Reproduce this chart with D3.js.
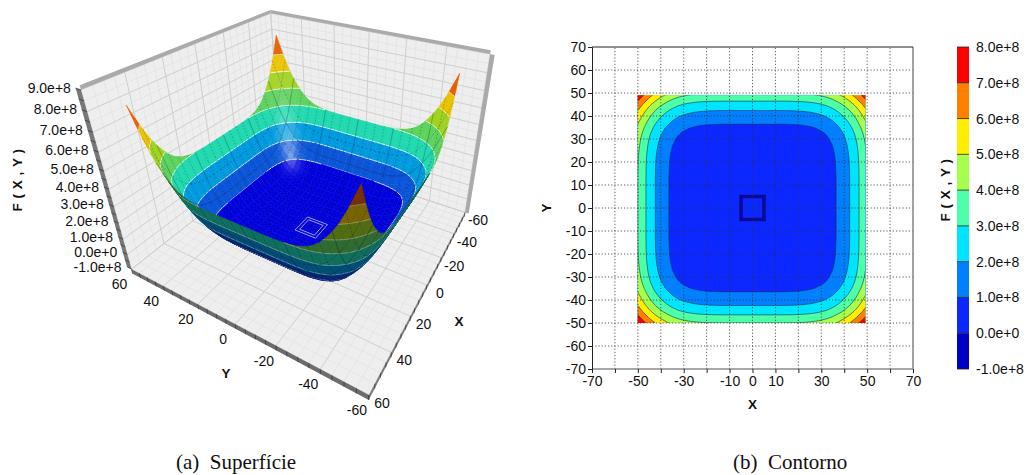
<!DOCTYPE html>
<html>
<head>
<meta charset="utf-8">
<script src="https://cdnjs.cloudflare.com/ajax/libs/d3/7.8.5/d3.min.js"></script>
<style>
  body { margin: 0; background: #fff; }
  text { font-family: "Liberation Sans", Arial, sans-serif; fill: #111; }
  .tick text { font-size: 14px; }
  .title { font-weight: bold; font-size: 13.5px; }
  .title.wide { letter-spacing: 0.5px; }
  .caption { font-family: "Liberation Serif", serif; font-size: 21px; }
</style>
</head>
<body>
<script>
// F(X,Y) in units of 1e8. One quadrant, |x| and |y| = 0, 2.5 ... 50
const gridStep = 2.5;
const zQuadrant = [
  [0,0,0,0,0,0,.01,.02,.04,.08,.14,.23,.36,.54,.80,1.14,1.54,2.02,2.60,3.28,4.00],
  [0,0,0,0,0,0,.01,.02,.04,.08,.14,.23,.36,.54,.80,1.14,1.54,2.02,2.60,3.28,4.00],
  [0,0,0,0,0,0,.01,.02,.04,.08,.14,.23,.36,.54,.80,1.14,1.54,2.02,2.60,3.28,4.00],
  [0,0,0,0,0,0,.01,.02,.04,.08,.14,.23,.36,.54,.80,1.14,1.54,2.02,2.60,3.28,4.00],
  [0,0,0,0,0,0,.01,.02,.04,.08,.14,.23,.36,.54,.80,1.14,1.54,2.02,2.60,3.28,4.00],
  [0,0,0,0,0,0,.01,.02,.04,.08,.14,.23,.36,.54,.80,1.14,1.54,2.02,2.60,3.28,4.00],
  [.01,.01,.01,.01,.01,.01,.02,.03,.05,.09,.15,.24,.37,.55,.81,1.15,1.55,2.03,2.61,3.29,4.01],
  [.02,.02,.02,.02,.02,.02,.03,.04,.06,.10,.16,.25,.38,.56,.82,1.16,1.56,2.04,2.62,3.30,4.02],
  [.04,.04,.04,.04,.04,.04,.05,.06,.08,.12,.18,.27,.40,.58,.84,1.18,1.58,2.06,2.64,3.32,4.04],
  [.08,.08,.08,.08,.08,.08,.09,.10,.12,.16,.22,.31,.44,.62,.88,1.22,1.62,2.10,2.68,3.36,4.08],
  [.14,.14,.14,.14,.14,.14,.15,.16,.18,.22,.28,.37,.50,.68,.94,1.28,1.68,2.16,2.74,3.42,4.14],
  [.23,.23,.23,.23,.23,.23,.24,.25,.27,.31,.37,.46,.59,.77,1.03,1.37,1.77,2.25,2.83,3.51,4.23],
  [.36,.36,.36,.36,.36,.36,.37,.38,.40,.44,.50,.59,.72,.90,1.16,1.50,1.90,2.38,2.96,3.64,4.36],
  [.54,.54,.54,.54,.54,.54,.55,.56,.58,.62,.68,.77,.90,1.08,1.34,1.68,2.08,2.56,3.14,3.82,4.54],
  [.80,.80,.80,.80,.80,.80,.81,.82,.84,.88,.94,1.03,1.16,1.34,1.60,1.94,2.34,2.82,3.40,4.08,4.80],
  [1.14,1.14,1.14,1.14,1.14,1.14,1.15,1.16,1.18,1.22,1.28,1.37,1.50,1.68,1.94,2.28,2.68,3.16,3.74,4.42,5.14],
  [1.54,1.54,1.54,1.54,1.54,1.54,1.55,1.56,1.58,1.62,1.68,1.77,1.90,2.08,2.34,2.68,3.08,3.56,4.14,4.82,5.54],
  [2.02,2.02,2.02,2.02,2.02,2.02,2.03,2.04,2.06,2.10,2.16,2.25,2.38,2.56,2.82,3.16,3.56,4.04,4.62,5.30,6.02],
  [2.60,2.60,2.60,2.60,2.60,2.60,2.61,2.62,2.64,2.68,2.74,2.83,2.96,3.14,3.40,3.74,4.14,4.62,5.20,5.88,6.60],
  [3.28,3.28,3.28,3.28,3.28,3.28,3.29,3.30,3.32,3.36,3.42,3.51,3.64,3.82,4.08,4.42,4.82,5.30,5.88,6.56,7.28],
  [4.00,4.00,4.00,4.00,4.00,4.00,4.01,4.02,4.04,4.08,4.14,4.23,4.36,4.54,4.80,5.14,5.54,6.02,6.60,7.28,8.00]
];
// the small square well around the origin, inner and outer half width
const wellHalf = [4.2, 5.8];
// the 3D picture sits a little lower than the contour values, fitted by eye
const surfaceGain = 1.04, surfaceSink = 0.2;

const levels = [-1, 0, 1, 2, 3, 4, 5, 6, 7, 8];
const contourColors = ["#0000c4", "#0a28ff", "#0080ff", "#00e5ff", "#4dffa6", "#a6ff4d", "#ffee00", "#ff8000", "#ff0000"];
const surfaceLevels = [-1, 1, 2, 3, 4, 5, 6, 7, 9];
const surfaceColors = ["#0000e6", "#0a58e0", "#00a0e6", "#22e0b4", "#60d860", "#a4d820", "#f0c800", "#ee6000"];

const contourXLabels = [-70, -50, -30, -10, 0, 10, 30, 50, 70];
const contourTicks = d3.range(-70, 71, 10);
const boxXLabels = [-60, -40, -20, 0, 20, 40, 60];
const boxYLabels = [-60, -40, -20, 0, 20, 40, 60];
const boxZLabels = [-1, 0, 1, 2, 3, 4, 5, 6, 7, 8, 9];

// screen position of the corners of the box in the left plot: [x, y, z, px, py]
const boxCorners = [
  [60, 60, -1, 129, 273], [60, -60, -1, 370, 392], [-60, -60, -1, 462, 217], [-60, 60, -1, 284, 147],
  [60, 60, 9, 83, 88], [-60, -60, 9, 493, 51], [-60, 60, 9, 267, 17]
];

const svg = d3.select("body").append("svg").attr("width", 1030).attr("height", 475);
const fmtE = v => (v * 1e8).toExponential(1);

// values repeated over the four quadrants
const n = zQuadrant.length;
const side = d3.range(-(n - 1), n).map(Math.abs);
const zGrid = side.map(j => side.map(i => zQuadrant[j][i]));
const zSurf = zGrid.map(row => row.map(v => v * surfaceGain - surfaceSink));
const coord = d3.range(side.length).map(i => -50 + i * gridStep);

/* ---------- left plot, projected surface ---------- */
const normXY = d3.scaleLinear().domain([-60, 60]).range([-1, 1]);
const normZ = d3.scaleLinear().domain([-1, 9]).range([-1, 1]);
const cam = solveCamera(boxCorners);

function solveCamera(pts) {
  const rows = [], rhs = [];
  pts.forEach(p => {
    const X = normXY(p[0]), Y = normXY(p[1]), Z = normZ(p[2]), u = p[3], v = p[4];
    rows.push([X, Y, Z, 1, 0, 0, 0, 0, -u * X, -u * Y, -u * Z]); rhs.push(u);
    rows.push([0, 0, 0, 0, X, Y, Z, 1, -v * X, -v * Y, -v * Z]); rhs.push(v);
  });
  const m = 11;
  const A = d3.range(m).map(a => d3.range(m + 1).map(b =>
    b < m ? d3.sum(rows, r => r[a] * r[b]) : d3.sum(rows, (r, k) => r[a] * rhs[k])));
  for (let c = 0; c < m; c++) {
    let piv = c;
    for (let r = c + 1; r < m; r++) if (Math.abs(A[r][c]) > Math.abs(A[piv][c])) piv = r;
    [A[c], A[piv]] = [A[piv], A[c]];
    for (let r = 0; r < m; r++) {
      if (r === c) continue;
      const f = A[r][c] / A[c][c];
      for (let k = c; k <= m; k++) A[r][k] -= f * A[c][k];
    }
  }
  return A.map((r, i) => r[m] / r[i]);
}

function project(x, y, z) {
  const X = normXY(x), Y = normXY(y), Z = normZ(z);
  const w = cam[8] * X + cam[9] * Y + cam[10] * Z + 1;
  return [(cam[0] * X + cam[1] * Y + cam[2] * Z + cam[3]) / w,
          (cam[4] * X + cam[5] * Y + cam[6] * Z + cam[7]) / w];
}
const line = d3.line();
const poly3 = pts => line(pts.map(p => project(p[0], p[1], p[2]))) + "Z";
const seg3 = (a, b) => line([project(a[0], a[1], a[2]), project(b[0], b[1], b[2])]);

const left = svg.append("g");

// walls and floor
const wallFill = "#eeeeee";
left.append("path").attr("d", poly3([[60, 60, -1], [-60, 60, -1], [-60, 60, 9], [60, 60, 9]])).attr("fill", wallFill);
left.append("path").attr("d", poly3([[-60, 60, -1], [-60, -60, -1], [-60, -60, 9], [-60, 60, 9]])).attr("fill", wallFill);
left.append("path").attr("d", poly3([[60, 60, -1], [60, -60, -1], [-60, -60, -1], [-60, 60, -1]])).attr("fill", wallFill);

const gridLines = [];
d3.range(-60, 61, 5).forEach(v => {
  const major = v % 20 === 0;
  gridLines.push({ d: seg3([v, 60, -1], [v, 60, 9]), major });
  gridLines.push({ d: seg3([-60, v, -1], [-60, v, 9]), major });
  gridLines.push({ d: seg3([v, 60, -1], [v, -60, -1]), major });
  gridLines.push({ d: seg3([60, v, -1], [-60, v, -1]), major });
});
d3.range(-1, 9.01, 0.5).forEach(v => {
  const major = v % 1 === 0;
  gridLines.push({ d: seg3([60, 60, v], [-60, 60, v]), major });
  gridLines.push({ d: seg3([-60, 60, v], [-60, -60, v]), major });
});
left.selectAll(".wallgrid").data(gridLines).join("path").attr("class", "wallgrid")
  .attr("d", d => d.d).attr("fill", "none")
  .attr("stroke", d => d.major ? "#cfcfcf" : "#e2e2e2").attr("stroke-width", d => d.major ? 1 : 0.8);

// thick edges of the box
const zLow = -1.32;
left.append("path").attr("d", poly3([[60, 60, -1], [60, -60, -1], [60, -60, zLow], [60, 60, zLow]])).attr("fill", "#6c6c6c");
left.append("path").attr("d", poly3([[60, -60, -1], [-60, -60, -1], [-60, -60, zLow], [60, -60, zLow]])).attr("fill", "#7c7c7c");
left.append("path").attr("d", poly3([[60, 60, -1], [60, 60, 9], [60, 63, 9], [60, 63, -1]])).attr("fill", "#777777");
left.append("path").attr("d", poly3([[60, 60, 9], [-60, 60, 9], [-60, 60, 9.2], [60, 60, 9.2]])).attr("fill", "#aaaaaa");
left.append("path").attr("d", poly3([[-60, 60, 9], [-60, -60, 9], [-60, -60, 9.2], [-60, 60, 9.2]])).attr("fill", "#aaaaaa");
left.append("path").attr("d", poly3([[-60, -60, -1], [-60, -60, 9], [-60, -62, 9], [-60, -62, -1]])).attr("fill", "#aaaaaa");

const edgeTicks = [];
d3.range(-60, 61, 5).forEach(v => {
  edgeTicks.push(seg3([60, v, -1], [60, v, zLow]));
  edgeTicks.push(seg3([v, -60, -1], [v, -60, zLow]));
});
d3.range(-1, 9.01, 0.5).forEach(v => edgeTicks.push(seg3([60, 60, v], [60, 63, v])));
left.selectAll(".edgetick").data(edgeTicks).join("path").attr("class", "edgetick")
  .attr("d", d => d).attr("stroke", "#333").attr("stroke-width", 0.7).attr("fill", "none");

// surface, cells painted from far corner to near corner
function clipZ(pts, level, keepAbove) {
  const out = [];
  pts.forEach((a, i) => {
    const b = pts[(i + 1) % pts.length];
    const ina = keepAbove ? a[2] >= level : a[2] <= level;
    const inb = keepAbove ? b[2] >= level : b[2] <= level;
    if (ina) out.push(a);
    if (ina !== inb) {
      const t = (level - a[2]) / (b[2] - a[2]);
      out.push([a[0] + t * (b[0] - a[0]), a[1] + t * (b[1] - a[1]), level]);
    }
  });
  return out;
}
function crossing(pts, level) {
  const out = [];
  pts.forEach((a, i) => {
    const b = pts[(i + 1) % pts.length];
    if ((a[2] < level) !== (b[2] < level)) {
      const t = (level - a[2]) / (b[2] - a[2]);
      out.push([a[0] + t * (b[0] - a[0]), a[1] + t * (b[1] - a[1]), level]);
    }
  });
  return out;
}
function screenArea(pts) {
  return d3.polygonArea(pts.map(p => project(p[0], p[1], p[2])));
}

const cells = [];
d3.range(coord.length - 1).forEach(j => d3.range(coord.length - 1).forEach(i => {
  cells.push({ i, j, depth: coord[i] - coord[j] });
}));
cells.sort((a, b) => a.depth - b.depth);

const half = (coord.length - 1) / 2;
const cellPts = (i, j) => [
  [coord[i], coord[j], zSurf[j][i]], [coord[i + 1], coord[j], zSurf[j][i + 1]],
  [coord[i + 1], coord[j + 1], zSurf[j + 1][i + 1]], [coord[i], coord[j + 1], zSurf[j + 1][i]]
];
const topSign = Math.sign(screenArea(cellPts(half, half)));
const halfway = [0.56, -0.56, 0.61];

const marks = [];
cells.forEach(c => {
  const pts = cellPts(c.i, c.j);
  const front = Math.sign(screenArea(pts)) === topSign;
  const dzdx = (pts[1][2] + pts[2][2] - pts[0][2] - pts[3][2]) / (2 * gridStep);
  const dzdy = (pts[2][2] + pts[3][2] - pts[0][2] - pts[1][2]) / (2 * gridStep);
  const nx = -dzdx * 8.4, ny = -dzdy * 8.4, len = Math.hypot(nx, ny, 1);
  const ndh = (nx * halfway[0] + ny * halfway[1] + halfway[2]) / len;
  const spec = front ? 0.45 * Math.pow(Math.max(0, ndh), 28) : 0;
  const k = front ? 0.97 : 0.5;
  surfaceColors.forEach((color, b) => {
    const part = clipZ(clipZ(pts, surfaceLevels[b], true), surfaceLevels[b + 1], false);
    if (part.length < 3) return;
    const base = d3.rgb(color);
    const col = d3.rgb(
      base.r * k + (255 - base.r * k) * spec,
      base.g * k + (255 - base.g * k) * spec,
      base.b * k + (255 - base.b * k) * spec).formatHex();
    marks.push({ d: poly3(part), fill: col, stroke: col, width: 0.5 });
  });
  surfaceLevels.slice(1, -1).forEach(lev => {
    const x = crossing(pts, lev);
    if (x.length === 2) marks.push({
      d: seg3(x[0], x[1]), fill: "none",
      stroke: front ? "#ffffff" : "#c4c4c4", width: front ? 0.9 : 0.7, opacity: front ? 0.85 : 0.7
    });
  });
  pts.forEach((a, e) => {
    const b = pts[(e + 1) % 4];
    const along = a[0] === b[0] ? a[0] : (a[1] === b[1] ? a[1] : null);
    if (along === null || along % 5 !== 0 || Math.abs(along) === 50) return;
    const solid = along % 20 === 0;
    marks.push({
      d: seg3(a, b), fill: "none", stroke: "#000a30",
      width: 0.7, opacity: solid ? 0.3 : 0.36, dash: solid ? null : "1.2 2"
    });
  });
});
left.selectAll(".surf").data(marks).join("path").attr("class", "surf")
  .attr("d", d => d.d).attr("fill", d => d.fill).attr("stroke", d => d.stroke)
  .attr("stroke-width", d => d.width).attr("stroke-opacity", d => d.opacity || 1)
  .attr("stroke-dasharray", d => d.dash).attr("stroke-linejoin", "round");

// white outline of the well
const squarePts = h => [[-h, -h, -surfaceSink], [h, -h, -surfaceSink], [h, h, -surfaceSink], [-h, h, -surfaceSink]];
left.selectAll(".wellsq").data(wellHalf).join("path").attr("class", "wellsq")
  .attr("d", h => poly3(squarePts(h))).attr("fill", "none").attr("stroke", "#dcdcff").attr("stroke-width", 0.7);

// left plot texts
const boxTick = left.append("g").attr("class", "tick");
boxTick.selectAll(".zl").data(boxZLabels).join("text").attr("class", "zl")
  .attr("x", d => project(60, 60, d)[0] - 10).attr("y", d => project(60, 60, d)[1] - 2)
  .attr("dy", "0.35em").attr("text-anchor", "end").text(fmtE);
boxTick.selectAll(".yl").data(boxYLabels).join("text").attr("class", "yl")
  .attr("x", d => project(60, d, -1)[0] - 12).attr("y", d => project(60, d, -1)[1] + 15)
  .attr("dy", "0.35em").attr("text-anchor", "middle").text(d => d);
boxTick.selectAll(".xl").data(boxXLabels).join("text").attr("class", "xl")
  .attr("x", d => project(d, -60, -1)[0] + 13).attr("y", d => project(d, -60, -1)[1] + 8)
  .attr("dy", "0.35em").attr("text-anchor", "middle").text(d => d);
left.append("text").attr("class", "title wide").attr("transform", "translate(22,180) rotate(-90)")
  .attr("text-anchor", "middle").text("F ( X , Y )");
left.append("text").attr("class", "title").attr("x", 226).attr("y", 378).attr("text-anchor", "middle").text("Y");
left.append("text").attr("class", "title").attr("x", 459).attr("y", 326).attr("text-anchor", "middle").text("X");

/* ---------- right plot, filled contours ---------- */
const x = d3.scaleLinear().domain([-70, 70]).range([592, 913]);
const y = d3.scaleLinear().domain([-70, 70]).range([369, 47]);
const right = svg.append("g");

svg.append("clipPath").attr("id", "dataclip").append("rect")
  .attr("x", x(-50)).attr("y", y(49)).attr("width", x(49.2) - x(-50)).attr("height", y(-50) - y(49));

const contours = d3.contours().size([coord.length, coord.length])
  .thresholds(levels.slice(0, -1))(zGrid.flat());
const gridPath = d3.geoPath(d3.geoTransform({
  point(px, py) {
    this.stream.point(x(-50 + (px - 0.5) * gridStep), y(-50 + (py - 0.5) * gridStep));
  }
}));
const bands = right.append("g").attr("clip-path", "url(#dataclip)");
bands.selectAll("path").data(contours).join("path")
  .attr("d", gridPath)
  .attr("fill", (d, i) => contourColors[i])
  .attr("stroke", (d, i) => i > 0 ? "#1c3350" : "none")
  .attr("stroke-width", 0.6)
  .attr("stroke-linejoin", "round");

const ring = d3.path();
wellHalf.forEach(h => ring.rect(x(-h), y(h), x(h) - x(-h), y(-h) - y(h)));
right.append("path").attr("d", ring.toString()).attr("fill", "#0a0a96").attr("fill-rule", "evenodd");

// dotted grid over the bands
right.selectAll(".gx").data(contourTicks.slice(1, -1)).join("line").attr("class", "gx")
  .attr("x1", d => x(d)).attr("x2", d => x(d)).attr("y1", y(-70)).attr("y2", y(70));
right.selectAll(".gy").data(contourTicks.slice(1, -1)).join("line").attr("class", "gy")
  .attr("y1", d => y(d)).attr("y2", d => y(d)).attr("x1", x(-70)).attr("x2", x(70));
right.selectAll(".gx,.gy").attr("stroke", "#333").attr("stroke-width", 0.8).attr("stroke-dasharray", "1.2 2");

// frame
right.append("path").attr("d", line([[x(-70), y(-70)], [x(70), y(-70)], [x(70), y(70)]]))
  .attr("fill", "none").attr("stroke", "#8c8c8c").attr("stroke-width", 1.6);

const axX = right.append("g").attr("transform", `translate(0,${y(-70)})`)
  .call(d3.axisBottom(x).tickValues(contourTicks).tickSize(4).tickPadding(3)
    .tickFormat(d => contourXLabels.includes(d) ? d : ""));
const axY = right.append("g").attr("transform", `translate(${x(-70)},0)`)
  .call(d3.axisLeft(y).tickValues(contourTicks).tickSize(4).tickPadding(2).tickFormat(d => d));
right.append("line").attr("x1", x(-70)).attr("x2", x(70)).attr("y1", y(70)).attr("y2", y(70)).attr("stroke", "#222");
axX.select(".domain").remove();
axY.select(".domain").attr("stroke", "#222");
right.selectAll(".tick text").attr("fill", "#111").style("font-family", "Liberation Sans");
axX.selectAll(".tick line").attr("stroke", "#222");
axY.selectAll(".tick line").attr("stroke", "#222");

right.append("text").attr("class", "title").attr("x", x(0)).attr("y", 409).attr("text-anchor", "middle").text("X");
right.append("text").attr("class", "title").attr("transform", `translate(551,${y(0)}) rotate(-90)`)
  .attr("text-anchor", "middle").text("Y");

/* ---------- colour bar ---------- */
const barY = d3.scaleLinear().domain([-1, 8]).range([369, 47]);
const barX = 957, barW = 12;
const bar = svg.append("g");
bar.selectAll("rect").data(contourColors).join("rect")
  .attr("x", barX).attr("width", barW)
  .attr("y", (d, i) => barY(levels[i + 1]))
  .attr("height", (d, i) => barY(levels[i]) - barY(levels[i + 1]))
  .attr("fill", d => d);
bar.selectAll(".sep").data(levels).join("line").attr("class", "sep")
  .attr("x1", barX).attr("x2", barX + barW).attr("y1", d => barY(d)).attr("y2", d => barY(d))
  .attr("stroke", "#222").attr("stroke-width", 0.8);
bar.append("g").attr("transform", `translate(${barX + barW},0)`)
  .call(d3.axisRight(barY).tickValues(levels).tickSize(0).tickPadding(7).tickFormat(fmtE))
  .call(g => g.select(".domain").remove())
  .selectAll("text").attr("fill", "#111").style("font-family", "Liberation Sans");
bar.append("text").attr("class", "title wide").attr("transform", "translate(950,190) rotate(-90)")
  .attr("text-anchor", "middle").text("F ( X , Y )");

/* ---------- captions ---------- */
svg.append("text").attr("class", "caption").attr("x", 176).attr("y", 469).attr("xml:space", "preserve").text("(a)  Superfície");
svg.append("text").attr("class", "caption").attr("x", 733).attr("y", 469).attr("xml:space", "preserve").text("(b)  Contorno");
</script>
</body>
</html>
